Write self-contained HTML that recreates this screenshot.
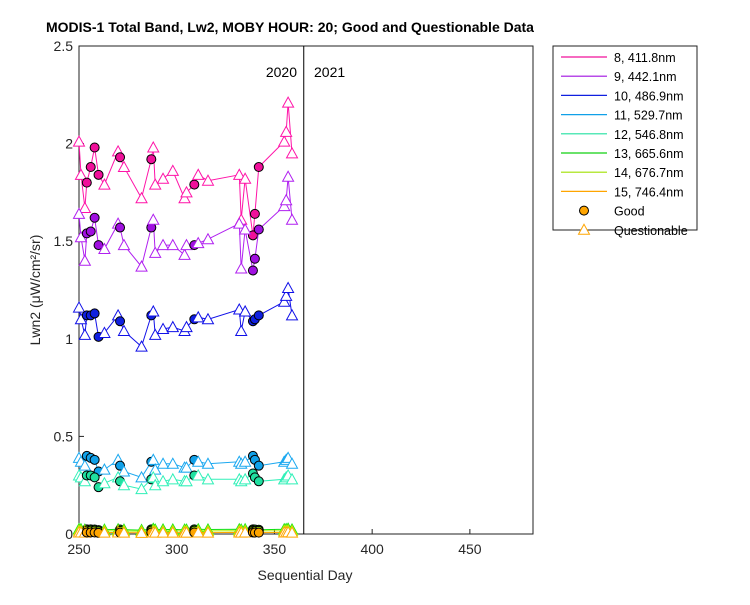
<!DOCTYPE html>
<html><head><meta charset="utf-8"><style>
body{margin:0;background:#fff;}
svg text{font-family:"Liberation Sans",Arial,sans-serif;}
</style></head><body>
<svg id="chart" width="750" height="600">
<rect x="0" y="0" width="750" height="600" fill="#fff"/>
<text x="290" y="32" text-anchor="middle" font-size="14" font-weight="bold">MODIS-1 Total Band, Lw2, MOBY HOUR: 20;  Good and Questionable Data</text>
<rect x="79" y="46" width="454" height="488" fill="none" stroke="#222" stroke-width="1"/>
<g id="axes"></g>
<g id="series"></g>
<text x="305" y="580" text-anchor="middle" font-size="14" fill="#262626">Sequential Day</text>
<text transform="translate(40,290) rotate(-90)" text-anchor="middle" font-size="14" fill="#262626">Lwn2 (μW/cm²/sr)</text>
<text x="297" y="77" text-anchor="end" font-size="14">2020</text>
<text x="314" y="77" font-size="14">2021</text>
<g id="legend"></g>
</svg>
<script>
const days=[250,251,253,254,256,258,260,263,270,271,273,282,287,288,289,293,298,304,305,309,311,316,332,333,335,339,340,342,355,356,357,359];
const quality=['Q','Q','Q','G','G','G','G','Q','Q','G','Q','Q','G','Q','Q','Q','Q','Q','Q','G','Q','Q','Q','Q','Q','G','G','G','Q','Q','Q','Q'];
const bandNames=['8, 411.8nm','9, 442.1nm','10, 486.9nm','11, 529.7nm','12, 546.8nm','13, 665.6nm','14, 676.7nm','15, 746.4nm'];
const band8=[2.01,1.84,1.67,1.80,1.88,1.98,1.84,1.79,1.96,1.93,1.88,1.72,1.92,1.98,1.79,1.82,1.86,1.72,1.75,1.79,1.84,1.81,1.84,1.61,1.82,1.53,1.64,1.88,2.01,2.06,2.21,1.95];
const band9=[1.64,1.52,1.40,1.54,1.55,1.62,1.48,1.46,1.59,1.57,1.48,1.37,1.57,1.61,1.44,1.48,1.48,1.43,1.48,1.48,1.49,1.51,1.59,1.36,1.56,1.35,1.41,1.56,1.68,1.71,1.83,1.61];
const band10=[1.16,1.10,1.02,1.12,1.12,1.13,1.01,1.03,1.12,1.09,1.04,0.96,1.12,1.14,1.02,1.05,1.06,1.04,1.06,1.10,1.11,1.10,1.15,1.04,1.14,1.09,1.10,1.12,1.19,1.22,1.26,1.12];
const band11=[0.39,0.37,0.35,0.40,0.39,0.38,0.32,0.33,0.38,0.35,0.32,0.29,0.37,0.38,0.33,0.36,0.36,0.34,0.34,0.38,0.37,0.36,0.37,0.36,0.37,0.40,0.38,0.35,0.37,0.38,0.39,0.36];
const band12=[0.30,0.29,0.27,0.30,0.30,0.29,0.24,0.26,0.29,0.27,0.25,0.23,0.28,0.29,0.25,0.27,0.28,0.27,0.27,0.30,0.30,0.28,0.28,0.27,0.28,0.31,0.29,0.27,0.28,0.29,0.30,0.28];
const band13=[0.025,0.024,0.022,0.024,0.024,0.023,0.020,0.022,0.024,0.023,0.022,0.020,0.024,0.026,0.022,0.023,0.023,0.022,0.022,0.024,0.024,0.023,0.024,0.022,0.024,0.024,0.023,0.022,0.024,0.025,0.027,0.023];
const band14=[0.018,0.017,0.016,0.017,0.017,0.017,0.014,0.016,0.017,0.016,0.016,0.014,0.017,0.018,0.016,0.016,0.016,0.016,0.016,0.017,0.017,0.016,0.017,0.016,0.017,0.017,0.016,0.016,0.017,0.018,0.019,0.016];
const band15=[0.008,0.008,0.007,0.008,0.008,0.008,0.006,0.007,0.008,0.007,0.007,0.006,0.008,0.008,0.007,0.007,0.007,0.007,0.007,0.008,0.008,0.007,0.008,0.007,0.008,0.008,0.007,0.007,0.008,0.008,0.009,0.007];
const xTicks=[250,300,350,400,450];
const yTicks=[0,0.5,1,1.5,2,2.5];
const yTickLabels=['0','0.5','1','1.5','2','2.5'];
const yearBoundary=365;

const NS='http://www.w3.org/2000/svg';
const X0=79,X1=533,Y0=534,Y1=46,XMIN=250,XMAX=482.3,YMIN=0,YMAX=2.5;
const xs=d=>X0+(d-XMIN)/(XMAX-XMIN)*(X1-X0);
const ys=v=>Y0-(v-YMIN)/(YMAX-YMIN)*(Y0-Y1);
function mk(tag,attrs,parent){const e=document.createElementNS(NS,tag);for(const k in attrs)e.setAttribute(k,attrs[k]);parent.appendChild(e);return e;}
const axes=document.getElementById('axes');
xTicks.forEach(t=>{
  mk('line',{x1:xs(t),x2:xs(t),y1:Y0,y2:Y0-5,stroke:'#222'},axes);
  const tx=mk('text',{x:xs(t),y:Y0+20,'text-anchor':'middle','font-size':14,fill:'#262626'},axes);
  tx.textContent=t;
  
  
});
yTicks.forEach((t,i)=>{
  mk('line',{x1:X0,x2:X0+5,y1:ys(t),y2:ys(t),stroke:'#222'},axes);
  const tx=mk('text',{x:X0-6,y:ys(t)+5,'text-anchor':'end','font-size':14,fill:'#262626'},axes);
  tx.textContent=yTickLabels[i];
  
  
});
const yl=mk('line',{x1:xs(yearBoundary),x2:xs(yearBoundary),y1:Y1,y2:Y0,stroke:'#000'},axes);



const bands=[band8,band9,band10,band11,band12,band13,band14,band15];
const colors=['#ff14a8','#b020f0','#1010e8','#1aa8f0','#30f0b8','#10e010','#b0f000','#ffa500'];
const fills=['#f0109a','#a010e0','#1020e0','#10a0e8','#20e0a0','#10d010','#a0e000','#ffa500'];
const ser=document.getElementById('series');
for(let b=0;b<bands.length;b++){
  const vals=bands[b];
  const g=mk('g',{},ser);
  
  
  const pts=days.map((d,i)=>xs(d).toFixed(1)+','+ys(vals[i]).toFixed(1)).join(' ');
  mk('polyline',{points:pts,fill:'none',stroke:colors[b],'stroke-width':1},g);
  days.forEach((d,i)=>{
    const x=xs(d),y=ys(vals[i]);
    let m;
    if(quality[i]==='G'){
      m=mk('circle',{cx:x,cy:y,r:4.5,fill:fills[b],stroke:'#000','stroke-width':1},g);
      
    }else{
      m=mk('polygon',{points:`${x},${y-5.5} ${x-5.5},${y+4.5} ${x+5.5},${y+4.5}`,fill:'#fff',stroke:colors[b],'stroke-width':1},g);
      
    }
    
  });
}
const lg=document.getElementById('legend');
mk('rect',{x:553,y:46,width:144,height:184,fill:'#fff',stroke:'#222'},lg);
bandNames.forEach((n,i)=>{
  const y=57+i*19.2;
  const e=mk('g',{},lg);
  
  
  mk('line',{x1:561,x2:607,y1:y,y2:y,stroke:fills[i],'stroke-width':1.2},e);
  const t=mk('text',{x:614,y:y+5,'font-size':12.5,fill:'#000'},e);t.textContent=n;
});
const ge=mk('g',{},lg);


mk('circle',{cx:584,cy:57+8*19.2,r:4.5,fill:'#ffa500',stroke:'#000'},ge);
const gt=mk('text',{x:614,y:57+8*19.2+5,'font-size':12.5},ge);gt.textContent='Good';
const qe=mk('g',{},lg);


const qy=57+9*19.2;
mk('polygon',{points:`584,${qy-5.5} 578.5,${qy+4.5} 589.5,${qy+4.5}`,fill:'#fff',stroke:'#ffa500'},qe);
const qt=mk('text',{x:614,y:qy+5,'font-size':12.5},qe);qt.textContent='Questionable';
</script>
</body></html>
